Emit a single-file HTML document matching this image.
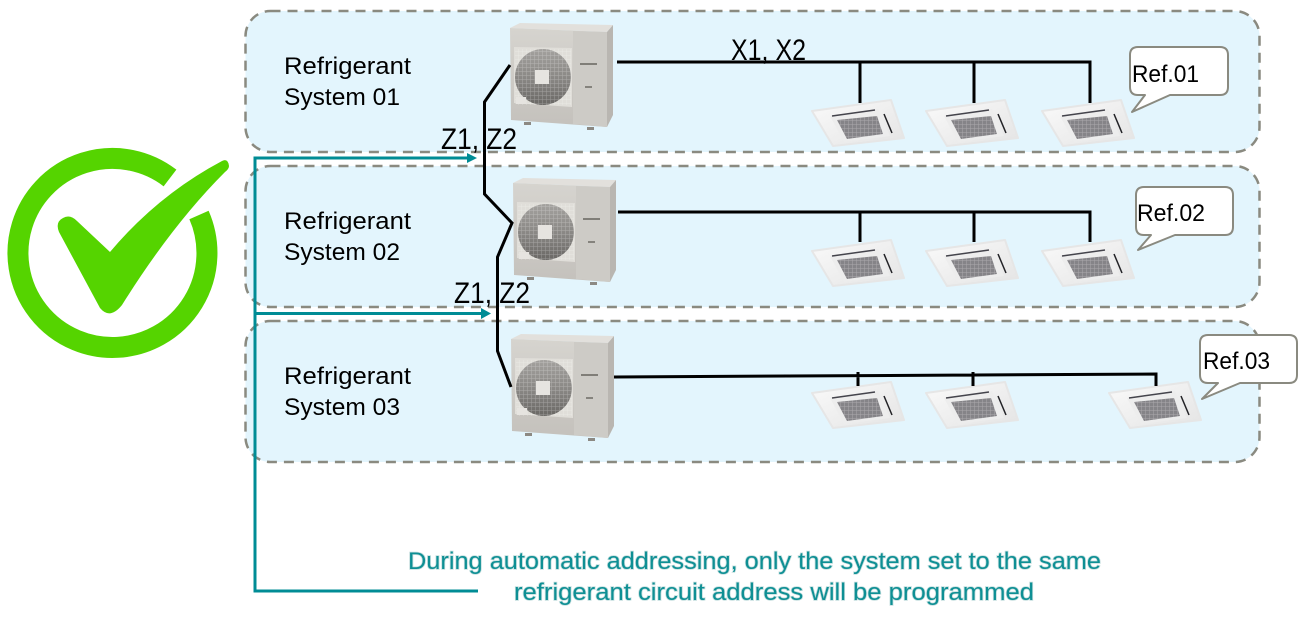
<!DOCTYPE html>
<html>
<head>
<meta charset="utf-8">
<style>
html,body{margin:0;padding:0;background:#fff;width:1298px;height:620px;overflow:hidden}
svg{display:block}
text{font-family:"Liberation Sans",sans-serif}
</style>
</head>
<body>
<svg width="1298" height="620" viewBox="0 0 1298 620" xmlns="http://www.w3.org/2000/svg">
<defs>
<linearGradient id="front" x1="0" y1="0" x2="0" y2="1"><stop offset="0" stop-color="#d6d4cf"/><stop offset="1" stop-color="#c4c1bc"/></linearGradient>
<linearGradient id="fan" x1="0" y1="0" x2="0" y2="1"><stop offset="0" stop-color="#a3a19e"/><stop offset=".5" stop-color="#8b8986"/><stop offset="1" stop-color="#6a6865"/></linearGradient>
<linearGradient id="panel" x1="0" y1="0" x2="1" y2="1"><stop offset="0" stop-color="#fafafa"/><stop offset="1" stop-color="#e4e4e4"/></linearGradient>
<pattern id="grid" width="4" height="4" patternUnits="userSpaceOnUse"><path d="M0 0H4M0 0V4" stroke="#ffffff" stroke-opacity=".3" stroke-width="1"/></pattern>
<g id="odu">
  <polygon points="0,5 10,0 103,2 97,9" fill="#e2e0dc"/>
  <polygon points="0,5 97,9 97,104 1,97" fill="url(#front)"/>
  <polygon points="97,9 103,2 103,92 97,104" fill="#b9b6b1"/>
  <polygon points="63,8 97,9 97,104 63,101" fill="#cdcbc6"/>
  <polygon points="4,24 62,25 62,84 4,80" fill="#e0ded9"/>
  <circle cx="33" cy="54" r="28" fill="url(#fan)"/>
  <rect x="5" y="26" width="56" height="56" fill="url(#grid)"/>
  <rect x="25" y="47" width="14" height="14" fill="#e6e4e0"/>
  <rect x="6" y="74" width="10" height="7" fill="#e6e4e0"/>
  <path d="M70 41h17" stroke="#66645f" stroke-width="1.500"/>
  <rect x="75" y="63" width="7" height="2" fill="#85837d"/>
  <rect x="14" y="99" width="7" height="3" fill="#8c8983"/>
  <rect x="77" y="104" width="7" height="3" fill="#8c8983"/>
</g>
<g id="idu">
  <polygon points="0,11 79,0 92,38 21,46" fill="url(#panel)" stroke="#e6e6e6" stroke-width="2" stroke-linejoin="round"/>
  <polygon points="18,16 66,9 78,36 32,42" fill="#ededed"/>
  <polygon points="25,20 65,16 71,34 35,39" fill="#858488"/>
  <polygon points="25,20 65,16 71,34 35,39" fill="url(#grid)"/>
  <path d="M20 16L63 10" stroke="#44444c" stroke-width="1.500"/>
  <path d="M72 14L80 33" stroke="#222226" stroke-width="1.500"/>
</g>
</defs>

<!-- panels -->
<g fill="#e3f5fd" stroke="#8a8a80" stroke-width="2.500" stroke-dasharray="10 7">
  <rect x="245.500" y="11" width="1014" height="141" rx="25"/>
  <rect x="245.500" y="166" width="1014" height="141" rx="25"/>
  <rect x="245.500" y="321" width="1014" height="141" rx="25"/>
</g>

<!-- check mark -->
<path d="M170 178A94.500 94.500 0 1 0 199 215" fill="none" stroke="#55d400" stroke-width="21"/>
<path d="M59 232Q55 222 63 218Q70 214 77 221L110 252Q158 195 222 161Q228 158 229 166Q229 169 225 172Q172 225 122 305Q110 320 100 308Z" fill="#55d400"/>

<!-- units -->
<use href="#odu" x="510" y="23"/>
<use href="#odu" x="513" y="178"/>
<use href="#odu" x="511" y="334"/>

<use href="#idu" x="812" y="100"/>
<use href="#idu" x="926" y="100"/>
<use href="#idu" x="1042" y="100"/>
<use href="#idu" x="812" y="240"/>
<use href="#idu" x="926" y="240"/>
<use href="#idu" x="1042" y="240"/>
<use href="#idu" x="812" y="382"/>
<use href="#idu" x="926" y="382"/>
<use href="#idu" x="1109" y="382"/>

<!-- black wiring -->
<g fill="none" stroke="#000" stroke-width="3">
  <path d="M510 65L484.500 102V194L512 223L497.500 257V351L511 387"/>
  <path d="M617 62H1090V103M860 62V103M974 62V103"/>
  <path d="M618 212H1090V242M860 212V242M974 212V242"/>
  <path d="M614 377L1156 374V386M858 372V386M973 372V386"/>
</g>

<!-- teal -->
<g fill="none" stroke="#008c95" stroke-width="3">
  <path d="M468 158H255V591H478"/>
  <path d="M255 313.500H483"/>
</g>
<polygon points="467,153 477,158 467,163" fill="#008c95"/>
<polygon points="481,308 491,313.500 481,319" fill="#008c95"/>

<!-- callouts -->
<g fill="#fff" stroke="#8a8a80" stroke-width="2" stroke-linejoin="round">
  <path d="M1138 47H1220Q1228 47 1228 55V87Q1228 95 1220 95H1170L1132 112L1145 95H1138Q1130 95 1130 87V55Q1130 47 1138 47Z"/>
  <path d="M1144 187H1225Q1233 187 1233 195V227Q1233 235 1225 235H1175L1138 250L1151 235H1144Q1136 235 1136 227V195Q1136 187 1144 187Z"/>
  <path d="M1208 335H1289Q1297 335 1297 343V375Q1297 383 1289 383H1240L1202 399L1218 383H1208Q1200 383 1200 375V343Q1200 335 1208 335Z"/>
</g>

<!-- labels -->
<g fill="#000" font-size="24">
  <text x="284" y="74" textLength="127" lengthAdjust="spacingAndGlyphs">Refrigerant</text>
  <text x="284" y="105" textLength="116" lengthAdjust="spacingAndGlyphs">System 01</text>
  <text x="284" y="229" textLength="127" lengthAdjust="spacingAndGlyphs">Refrigerant</text>
  <text x="284" y="260" textLength="116" lengthAdjust="spacingAndGlyphs">System 02</text>
  <text x="284" y="384" textLength="127" lengthAdjust="spacingAndGlyphs">Refrigerant</text>
  <text x="284" y="415" textLength="116" lengthAdjust="spacingAndGlyphs">System 03</text>
  <text x="1132" y="82" textLength="67" lengthAdjust="spacingAndGlyphs">Ref.01</text>
  <text x="1137" y="221" textLength="68" lengthAdjust="spacingAndGlyphs">Ref.02</text>
  <text x="1203" y="369" textLength="67" lengthAdjust="spacingAndGlyphs">Ref.03</text>
</g>
<g fill="#000" font-size="30">
  <text x="731" y="60" textLength="75" lengthAdjust="spacingAndGlyphs">X1, X2</text>
  <text x="441" y="149" textLength="76" lengthAdjust="spacingAndGlyphs">Z1, Z2</text>
  <text x="454" y="303" textLength="76" lengthAdjust="spacingAndGlyphs">Z1, Z2</text>
</g>
<g fill="#0e8f94" font-size="24" style="paint-order:stroke" stroke="#c4dede" stroke-width="1.500">
  <text x="408" y="569" textLength="693" lengthAdjust="spacingAndGlyphs">During automatic addressing, only the system set to the same</text>
  <text x="514" y="600" textLength="520" lengthAdjust="spacingAndGlyphs">refrigerant circuit address will be programmed</text>
</g>
</svg>
</body>
</html>
